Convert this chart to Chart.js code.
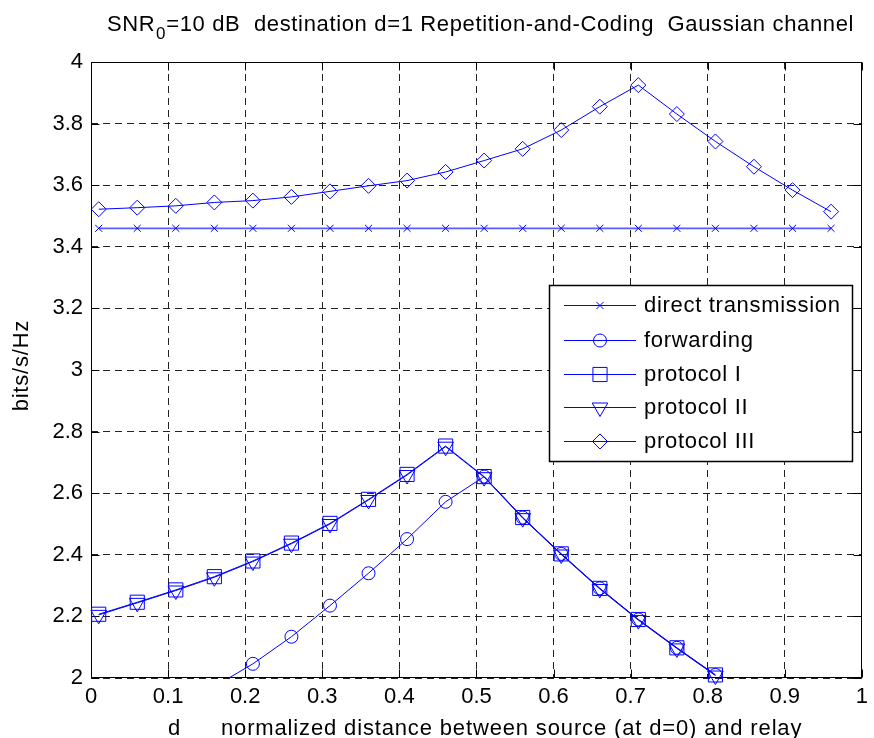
<!DOCTYPE html>
<html><head><meta charset="utf-8">
<script src="https://cdn.jsdelivr.net/npm/chart.js@4/dist/chart.umd.min.js"></script>
<style>html,body{margin:0;padding:0;background:#fff}</style>
</head><body>
<canvas id="c" width="874" height="738" style="width:874px;height:738px;display:block"></canvas>
<script>
// ---- data ----
const dValues = [0.01,0.06,0.11,0.16,0.21,0.26,0.31,0.36,0.41,0.46,0.51,0.56,0.61,0.66,0.71,0.76,0.81,0.86,0.91,0.96];
const directTransmission = [3.46,3.46,3.46,3.46,3.46,3.46,3.46,3.46,3.46,3.46,3.46,3.46,3.46,3.46,3.46,3.46,3.46,3.46,3.46,3.46];
const forwarding = [null,null,null,1.972,2.046,2.134,2.235,2.340,2.451,2.572,2.654,2.521,2.403,2.291,2.190,2.098,2.010,null,null,null];
const protocolI = [2.207,2.246,2.286,2.329,2.380,2.438,2.502,2.580,2.661,2.753,2.654,2.521,2.403,2.291,2.190,2.098,2.010,null,null,null];
const protocolII = [2.205,2.244,2.284,2.327,2.378,2.436,2.500,2.578,2.659,2.751,2.652,2.519,2.401,2.289,2.188,2.096,2.008,null,null,null];
const protocolIII = [3.522,3.527,3.533,3.544,3.550,3.562,3.580,3.598,3.615,3.643,3.680,3.718,3.779,3.855,3.925,3.831,3.742,3.660,3.584,3.514];
const xTicks = [0,0.1,0.2,0.3,0.4,0.5,0.6,0.7,0.8,0.9,1];
const yTicks = [2,2.2,2.4,2.6,2.8,3,3.2,3.4,3.6,3.8,4];
const seriesNames = ['direct transmission','forwarding','protocol I','protocol II','protocol III'];
const titleMain = 'SNR';
const titleSub = '0';
const titleRest = '=10 dB  destination d=1 Repetition-and-Coding  Gaussian channel';
const xTitleVar = 'd';
const xTitleText = 'normalized distance between source (at d=0) and relay';
const yTitle = 'bits/s/Hz';

const FONT = '"Liberation Sans", Arial, Helvetica, sans-serif';
const BLUE = '#0000ff';

function pts(arr){ return dValues.map((d,i)=>({x:d, y:arr[i]})); }

const styles = [
  {pointStyle:'crossRot', radius:5, rotation:0},
  {pointStyle:'circle', radius:6.5, rotation:0},
  {pointStyle:'rect', radius:10, rotation:0},
  {pointStyle:'triangle', radius:9, rotation:180},
  {pointStyle:'rectRot', radius:7.5, rotation:0}
];
const seriesData = [directTransmission, forwarding, protocolI, protocolII, protocolIII];

const datasets = seriesData.map((arr,i)=>({
  label: seriesNames[i],
  data: pts(arr),
  borderColor: i===0 ? 'rgba(50,50,255,0.8)' : BLUE,
  borderWidth: i===0 ? 1.8 : 1,
  backgroundColor: 'rgba(0,0,0,0)',
  pointBorderColor: BLUE,
  pointBackgroundColor: 'rgba(0,0,0,0)',
  pointBorderWidth: 1,
  pointStyle: styles[i].pointStyle,
  pointRadius: styles[i].radius,
  pointRotation: styles[i].rotation,
  pointHoverRadius: styles[i].radius,
  tension: 0,
  spanGaps: false,
  clip: i===1 ? 0 : {left:10, top:10, right:10, bottom:10}
}));

function textWidth(ctx, s, sp){
  let w = 0;
  for (const ch of s) w += ctx.measureText(ch).width + sp;
  return w - sp;
}
function spaced(ctx, s, x, y, sp){
  for (const ch of s){ ctx.fillText(ch, x, y); x += ctx.measureText(ch).width + sp; }
  return x;
}

const decor = {
  id:'decor',
  beforeDatasetsDraw(chart){
    const {ctx, chartArea:a, scales:{x,y}} = chart;
    ctx.save();
    ctx.setLineDash([]);
    ctx.strokeStyle = '#000';
    ctx.lineWidth = 1;
    const L = Math.round(a.left)+0.5, T = Math.round(a.top)+0.5, R = Math.round(a.right)-0.5, B = Math.round(a.bottom)-0.5;
    ctx.strokeRect(L, T, R-L, B-T);
    ctx.beginPath();
    xTicks.forEach(v=>{
      const px = Math.round(x.getPixelForValue(v))+0.5;
      ctx.moveTo(px,B); ctx.lineTo(px,B-8);
      ctx.moveTo(px,T); ctx.lineTo(px,T+8);
    });
    yTicks.forEach(v=>{
      const py = Math.round(y.getPixelForValue(v))+0.5;
      ctx.moveTo(L,py); ctx.lineTo(L+8,py);
      ctx.moveTo(R,py); ctx.lineTo(R-8,py);
    });
    ctx.stroke();
    ctx.restore();
  },
  afterDraw(chart){
    const {ctx} = chart;
    ctx.save();
    ctx.fillStyle = '#000';
    ctx.textBaseline = 'alphabetic';
    ctx.textAlign = 'left';
    // title
    ctx.font = '22px ' + FONT;
    let tx = 107;
    tx = spaced(ctx, titleMain, tx, 31, 0.65) + 0.65;
    ctx.font = '17px ' + FONT;
    ctx.fillText(titleSub, tx, 39);
    tx += ctx.measureText(titleSub).width + 0.65;
    ctx.font = '22px ' + FONT;
    spaced(ctx, titleRest, tx, 31, 0.65);
    // x title
    spaced(ctx, xTitleVar, 168, 735, 0);
    spaced(ctx, xTitleText, 221, 735, 0.85);
    // y title
    ctx.save();
    ctx.translate(28, 366);
    ctx.rotate(-Math.PI/2);
    const yw = textWidth(ctx, yTitle, 0.8);
    spaced(ctx, yTitle, -yw/2, 0, 0.8);
    ctx.restore();
    // legend
    const bx = 549.5, by = 285.5, bw = 303, bh = 176;
    ctx.fillStyle = '#fff';
    ctx.fillRect(bx, by, bw, bh);
    ctx.strokeStyle = '#000';
    ctx.lineWidth = 1.5;
    ctx.strokeRect(bx, by, bw, bh);
    const rows = [305, 340, 374, 407, 441];
    chart.data.datasets.forEach((ds,i)=>{
      const yy = rows[i];
      ctx.strokeStyle = BLUE;
      ctx.lineWidth = 1;
      ctx.beginPath();
      ctx.moveTo(564, yy+0.5); ctx.lineTo(636, yy+0.5);
      ctx.stroke();
      ctx.fillStyle = 'rgba(0,0,0,0)';
      Chart.helpers.drawPoint(ctx, {pointStyle: ds.pointStyle, rotation: ds.pointRotation, radius: ds.pointRadius, borderWidth: 1}, 600, yy+0.5);
      ctx.fillStyle = '#000';
      ctx.font = '22px ' + FONT;
      ctx.textBaseline = 'middle';
      spaced(ctx, ds.label, 644, yy+1, 0.7);
    });
    ctx.restore();
  }
};

new Chart(document.getElementById('c'), {
  type: 'line',
  data: { datasets },
  options: {
    responsive: false,
    animation: false,
    devicePixelRatio: 1,
    layout: { padding: { top: 62, right: 3, left: 0, bottom: 0 } },
    plugins: { legend: { display: false }, title: { display: false }, tooltip: { enabled: false } },
    scales: {
      x: {
        type: 'linear', min: 0, max: 1,
        afterFit(s){ s.height = 60; },
        afterBuildTicks(s){ s.ticks = xTicks.map(v=>({value:v})); },
        ticks: { color:'#000', font:{ family: FONT, size: 22 }, padding: 6, maxRotation: 0, autoSkip: false,
                 callback: v => String(v) },
        grid: { color: '#222', lineWidth: 1, drawTicks: false },
        border: { display: false, dash: [7,5] }
      },
      y: {
        type: 'linear', min: 2, max: 4,
        afterFit(s){ s.width = 91; },
        afterBuildTicks(s){ s.ticks = yTicks.map(v=>({value:v})); },
        ticks: { color:'#000', font:{ family: FONT, size: 22 }, padding: 8, autoSkip: false,
                 callback: v => String(v) },
        grid: { color: '#222', lineWidth: 1, drawTicks: false },
        border: { display: false, dash: [7,5] }
      }
    }
  },
  plugins: [decor]
});
</script>
</body></html>
